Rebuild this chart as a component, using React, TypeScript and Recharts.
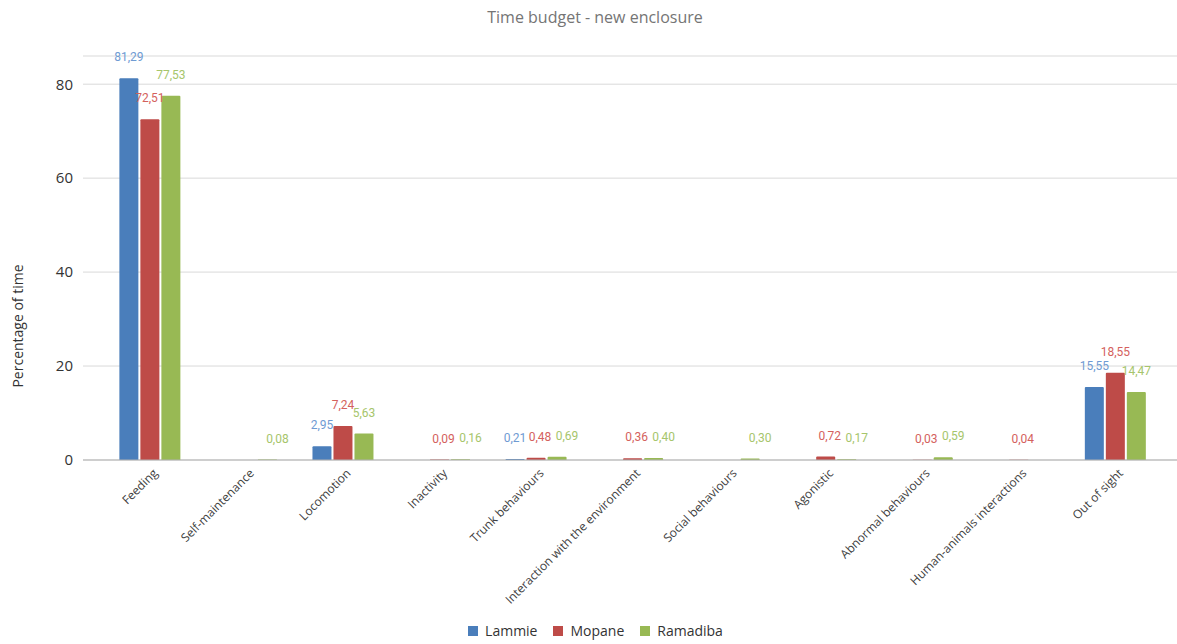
import React from 'react';
import { BarChart, Bar, XAxis, YAxis, CartesianGrid, Legend, LabelList } from 'recharts';

const categories = [
  'Feeding',
  'Self-maintenance',
  'Locomotion',
  'Inactivity',
  'Trunk behaviours',
  'Interaction with the environment',
  'Social behaviours',
  'Agonistic',
  'Abnormal behaviours',
  'Human-animals interactions',
  'Out of sight',
];

const lammie = [81.29, null, 2.95, null, 0.21, null, null, null, null, null, 15.55];
const mopane = [72.51, null, 7.24, 0.09, 0.48, 0.36, null, 0.72, 0.03, 0.04, 18.55];
const ramadiba = [77.53, 0.08, 5.63, 0.16, 0.69, 0.4, 0.3, 0.17, 0.59, null, 14.47];

const yTicks = [0, 20, 40, 60, 80];

const data = categories.map((name, i) => ({
  name,
  Lammie: lammie[i],
  Mopane: mopane[i],
  Ramadiba: ramadiba[i],
}));

const fmt = (v: any) => (v == null ? '' : Number(v).toFixed(2).replace('.', ','));

// small values get nudged right so the labels don't run into each other
const makeLabel = (color: string, shift: number) => (props: any) => {
  const { x, y, width, value } = props;
  if (value == null) return null;
  const dx = Number(value) < 1 ? shift : 0;
  return (
    <text
      x={x + width / 2 + dx}
      y={y - 17}
      textAnchor="middle"
      fill={color}
      fontSize={12}
      fontFamily="Roboto, sans-serif"
    >
      {fmt(value)}
    </text>
  );
};

const XTick = (props: any) => {
  const { x, y, payload } = props;
  return (
    <g transform={`translate(${x + 8},${y + 6})`}>
      <text
        x={0}
        y={0}
        textAnchor="end"
        transform="rotate(-45)"
        fontSize={12}
        fill="#404040"
        fontFamily="'Open Sans', sans-serif"
      >
        {payload.value}
      </text>
    </g>
  );
};

const LegendContent = () => {
  const items = [
    { name: 'Lammie', color: '#4a7ebb' },
    { name: 'Mopane', color: '#be4b48' },
    { name: 'Ramadiba', color: '#98b954' },
  ];
  return (
    <div style={{ display: 'flex', justifyContent: 'center', fontFamily: "'Open Sans', sans-serif", fontSize: 14, color: '#333', paddingLeft: 14 }}>
      {items.map((it) => (
        <span key={it.name} style={{ display: 'inline-flex', alignItems: 'center', margin: '0 8px' }}>
          <span style={{ width: 10, height: 10, background: it.color, display: 'inline-block', marginRight: 7 }} />
          {it.name}
        </span>
      ))}
    </div>
  );
};

const App = () => {
  return (
    <div style={{ position: 'absolute', left: 0, top: 0, width: 1177, height: 644, background: '#fff' }}>
      <div
        style={{
          position: 'absolute',
          top: 6,
          left: 0,
          width: 1190,
          textAlign: 'center',
          fontFamily: "'Open Sans', sans-serif",
          fontSize: 16,
          color: '#757575',
        }}
      >
        Time budget - new enclosure
      </div>
      <BarChart
        width={1177}
        height={644}
        data={data}
        margin={{ top: 56, right: 0, left: 0, bottom: 4 }}
        barCategoryGap="18%"
        barGap={2}
      >
        <CartesianGrid vertical={false} stroke="#d9d9d9" />
        <XAxis
          dataKey="name"
          interval={0}
          height={161}
          padding={{ left: 19, right: 13 }}
          tick={<XTick />}
          tickLine={false}
          axisLine={{ stroke: '#b0b0b0' }}
        />
        <YAxis
          width={83}
          domain={[0, 86]}
          ticks={yTicks}
          axisLine={false}
          tickLine={false}
          tick={{ fontSize: 15, fill: '#333', fontFamily: "'Open Sans', sans-serif" }}
          tickMargin={4}
          label={{
            value: 'Percentage of time',
            angle: -90,
            position: 'insideLeft',
            offset: 18,
            dy: 68,
            style: { fontSize: 14, fill: '#333', fontFamily: "'Open Sans', sans-serif", textAnchor: 'middle' },
          }}
        />
        <Legend verticalAlign="bottom" content={<LegendContent />} />
        <Bar dataKey="Lammie" fill="#4a7ebb" isAnimationActive={false} radius={[1, 1, 0, 0]}>
          <LabelList dataKey="Lammie" content={makeLabel('#6f9bd3', 0)} />
        </Bar>
        <Bar dataKey="Mopane" fill="#be4b48" isAnimationActive={false} radius={[1, 1, 0, 0]}>
          <LabelList dataKey="Mopane" content={makeLabel('#d4615d', 4)} />
        </Bar>
        <Bar dataKey="Ramadiba" fill="#98b954" isAnimationActive={false} radius={[1, 1, 0, 0]}>
          <LabelList dataKey="Ramadiba" content={makeLabel('#a6c56b', 10)} />
        </Bar>
      </BarChart>
    </div>
  );
};

export default App;
